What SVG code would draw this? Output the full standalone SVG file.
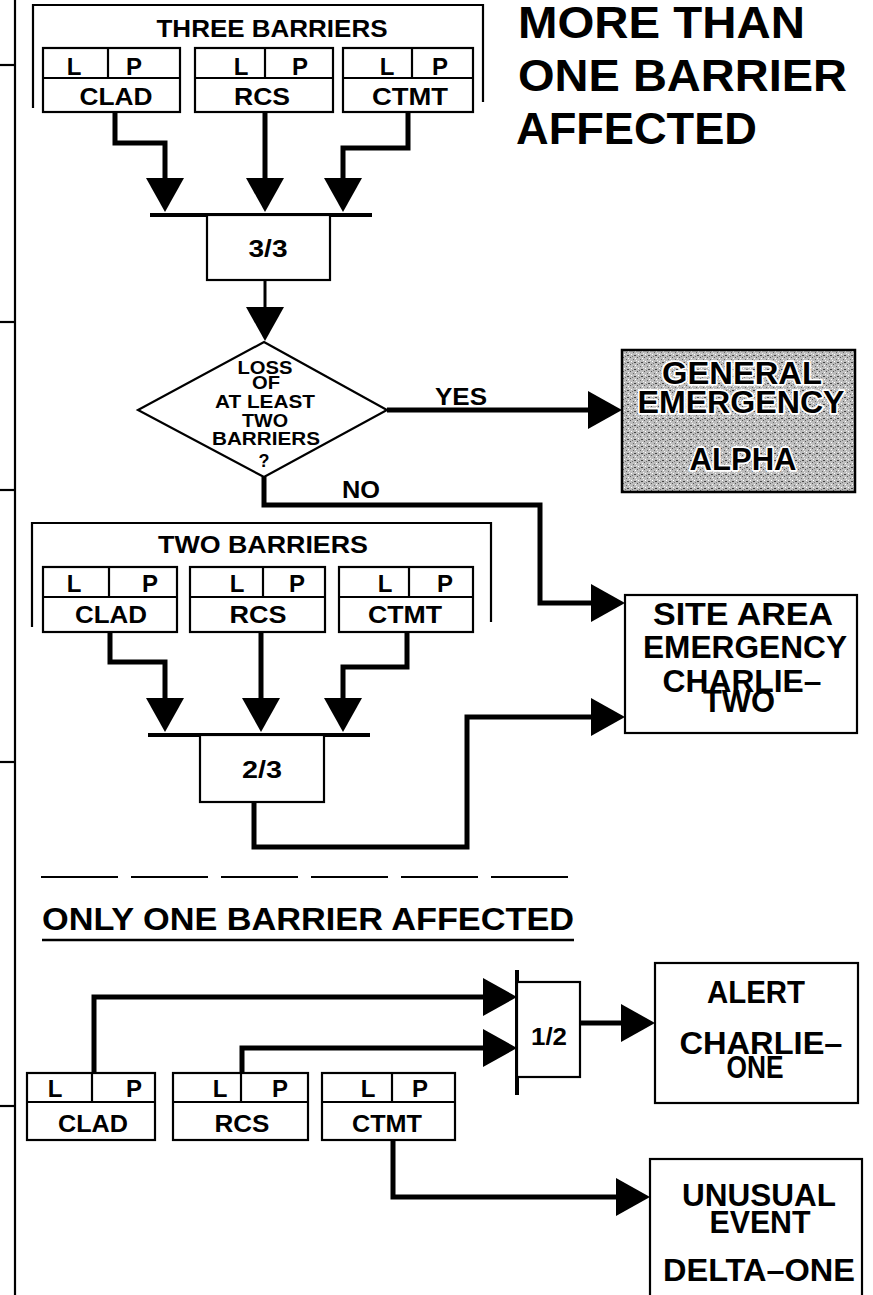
<svg xmlns="http://www.w3.org/2000/svg" width="873" height="1295" viewBox="0 0 873 1295">
<style>
.box{fill:#fff;stroke:#000;stroke-width:2.2}
.ln{fill:none;stroke:#000;stroke-width:2.2}
.bar{fill:none;stroke:#000;stroke-width:4}
.conn{fill:none;stroke:#000;stroke-width:5;marker-end:url(#ah)}
.thin{fill:none;stroke:#000;stroke-width:3;marker-end:url(#ah)}
text{font-family:"Liberation Sans",Arial,Helvetica,sans-serif;font-weight:bold;fill:#000}
.c{text-anchor:middle}
.lp{font-size:24px}
.nm{font-size:24px}
.big{font-size:31px}
.halo{stroke:#fff;stroke-width:3.5;paint-order:stroke;stroke-linejoin:round}
</style>
<defs>
<marker id="ah" markerUnits="userSpaceOnUse" markerWidth="34" markerHeight="38" viewBox="0 0 34 38" refX="24" refY="19" orient="auto"><path d="M0,0 L34,19 L0,38 Z" fill="#000"/></marker>
<pattern id="stip" width="7" height="7" patternUnits="userSpaceOnUse">
<rect width="7" height="7" fill="#bdbdbd"/>
<rect x="0" y="0" width="1" height="1" fill="#555"/>
<rect x="3" y="2" width="1" height="1" fill="#666"/>
<rect x="1" y="4" width="1" height="1" fill="#fff"/>
<rect x="4" y="5" width="2" height="1" fill="#444"/>
<rect x="5" y="1" width="1" height="1" fill="#fff"/>
<rect x="2" y="6" width="1" height="1" fill="#777"/>
<rect x="6" y="3" width="1" height="1" fill="#eee"/>
</pattern>
</defs>
<rect width="873" height="1295" fill="#fff"/>

<g id="frame">
<line class="ln" x1="15" y1="0" x2="15" y2="1295"/>
<line class="ln" x1="0" y1="65" x2="15" y2="65"/>
<line class="ln" x1="0" y1="322" x2="15" y2="322"/>
<line class="ln" x1="0" y1="490" x2="15" y2="490"/>
<line class="ln" x1="0" y1="762" x2="15" y2="762"/>
<line class="ln" x1="0" y1="1106" x2="15" y2="1106"/>
</g>

<g id="title">
<text x="518" y="38" font-size="44" textLength="287" lengthAdjust="spacingAndGlyphs">MORE THAN</text>
<text x="518" y="91" font-size="44" textLength="329" lengthAdjust="spacingAndGlyphs">ONE BARRIER</text>
<text x="516" y="144" font-size="44" textLength="241" lengthAdjust="spacingAndGlyphs">AFFECTED</text>
</g>

<g id="three-barriers">
<path class="ln" d="M33,108 V5 H483 V102"/>
<text class="c" x="272" y="37" font-size="24" textLength="231" lengthAdjust="spacingAndGlyphs">THREE BARRIERS</text>
</g>
<g id="top-clad">
<rect class="box" x="43" y="48" width="137" height="64"/>
<line class="ln" x1="43" y1="78" x2="180" y2="78"/><line class="ln" x1="108" y1="48" x2="108" y2="78"/>
<text class="c lp" x="74" y="75">L</text><text class="c lp" x="134" y="75">P</text>
<text class="c nm" x="116" y="105" textLength="73" lengthAdjust="spacingAndGlyphs">CLAD</text>
</g>
<g id="top-rcs">
<rect class="box" x="195" y="48" width="138" height="64"/>
<line class="ln" x1="195" y1="78" x2="333" y2="78"/><line class="ln" x1="265" y1="48" x2="265" y2="78"/>
<text class="c lp" x="241" y="75">L</text><text class="c lp" x="300" y="75">P</text>
<text class="c nm" x="262" y="105" textLength="56" lengthAdjust="spacingAndGlyphs">RCS</text>
</g>
<g id="top-ctmt">
<rect class="box" x="343" y="48" width="130" height="64"/>
<line class="ln" x1="343" y1="78" x2="473" y2="78"/><line class="ln" x1="412" y1="48" x2="412" y2="78"/>
<text class="c lp" x="387" y="75">L</text><text class="c lp" x="440" y="75">P</text>
<text class="c nm" x="410" y="105" textLength="76" lengthAdjust="spacingAndGlyphs">CTMT</text>
</g>
<g id="gate-3of3">
<line class="bar" x1="150" y1="215" x2="372" y2="215"/>
<rect class="box" x="207" y="215" width="123" height="65"/>
<text class="c nm" x="268" y="257" textLength="39" lengthAdjust="spacingAndGlyphs">3/3</text>
</g>

<g id="decision">
<polygon class="box" points="264,342 387,410 264,477 138,410"/>
<text class="c" font-size="19" x="265" y="374" textLength="55" lengthAdjust="spacingAndGlyphs">LOSS</text>
<text class="c" font-size="19" x="266" y="389" textLength="28" lengthAdjust="spacingAndGlyphs">OF</text>
<text class="c" font-size="19" x="265" y="408" textLength="100" lengthAdjust="spacingAndGlyphs">AT LEAST</text>
<text class="c" font-size="19" x="265" y="427" textLength="46" lengthAdjust="spacingAndGlyphs">TWO</text>
<text class="c" font-size="19" x="266" y="445" textLength="108" lengthAdjust="spacingAndGlyphs">BARRIERS</text>
<text class="c" font-size="18" x="264" y="467">?</text>
</g>

<g id="general-emergency">
<rect x="622" y="350" width="233" height="142" fill="url(#stip)" stroke="#000" stroke-width="2.5"/>
<text class="c big halo" x="742" y="384" textLength="160" lengthAdjust="spacingAndGlyphs">GENERAL</text>
<text class="c big halo" x="741" y="413" textLength="207" lengthAdjust="spacingAndGlyphs">EMERGENCY</text>
<text class="c big halo" x="743" y="470" textLength="107" lengthAdjust="spacingAndGlyphs">ALPHA</text>
</g>

<g id="site-area-emergency">
<rect class="box" x="625" y="595" width="232" height="138"/>
<text class="c big" x="743" y="625" textLength="180" lengthAdjust="spacingAndGlyphs">SITE AREA</text>
<text class="c big" x="745" y="658" textLength="204" lengthAdjust="spacingAndGlyphs">EMERGENCY</text>
<text class="c big" x="742" y="692" textLength="159" lengthAdjust="spacingAndGlyphs">CHARLIE–</text>
<text class="c big" x="739" y="712" textLength="72" lengthAdjust="spacingAndGlyphs">TWO</text>
</g>

<g id="two-barriers">
<path class="ln" d="M32,627 V523 H491 V622"/>
<text class="c" x="263" y="553" font-size="24" textLength="210" lengthAdjust="spacingAndGlyphs">TWO BARRIERS</text>
</g>
<g id="mid-clad">
<rect class="box" x="43" y="567" width="134" height="65"/>
<line class="ln" x1="43" y1="597" x2="177" y2="597"/><line class="ln" x1="109" y1="567" x2="109" y2="597"/>
<text class="c lp" x="74" y="592">L</text><text class="c lp" x="150" y="592">P</text>
<text class="c nm" x="111" y="623" textLength="72" lengthAdjust="spacingAndGlyphs">CLAD</text>
</g>
<g id="mid-rcs">
<rect class="box" x="190" y="567" width="135" height="65"/>
<line class="ln" x1="190" y1="597" x2="325" y2="597"/><line class="ln" x1="263" y1="567" x2="263" y2="597"/>
<text class="c lp" x="237" y="592">L</text><text class="c lp" x="297" y="592">P</text>
<text class="c nm" x="258" y="623" textLength="57" lengthAdjust="spacingAndGlyphs">RCS</text>
</g>
<g id="mid-ctmt">
<rect class="box" x="339" y="567" width="134" height="65"/>
<line class="ln" x1="339" y1="597" x2="473" y2="597"/><line class="ln" x1="409" y1="567" x2="409" y2="597"/>
<text class="c lp" x="385" y="592">L</text><text class="c lp" x="445" y="592">P</text>
<text class="c nm" x="405" y="623" textLength="74" lengthAdjust="spacingAndGlyphs">CTMT</text>
</g>
<g id="gate-2of3">
<line class="bar" x1="148" y1="735" x2="370" y2="735"/>
<rect class="box" x="200" y="735" width="124" height="67"/>
<text class="c nm" x="262" y="778" textLength="40" lengthAdjust="spacingAndGlyphs">2/3</text>
</g>

<g id="separator">
<line x1="41" y1="877" x2="568" y2="877" stroke="#000" stroke-width="2" stroke-dasharray="77 13"/>
</g>
<g id="heading-one">
<text x="42" y="930" font-size="32" textLength="532" lengthAdjust="spacingAndGlyphs">ONLY ONE BARRIER AFFECTED</text>
<line x1="42" y1="940" x2="574" y2="940" stroke="#000" stroke-width="2.5"/>
</g>

<g id="gate-1of2">
<line class="bar" x1="517" y1="970" x2="517" y2="1095"/>
<rect class="box" x="517" y="982" width="63" height="95"/>
<text class="c nm" x="549" y="1045" textLength="36" lengthAdjust="spacingAndGlyphs">1/2</text>
</g>
<g id="alert">
<rect class="box" x="655" y="963" width="203" height="140"/>
<text class="c big" x="756" y="1003" textLength="98" lengthAdjust="spacingAndGlyphs">ALERT</text>
<text class="c big" x="761" y="1054" textLength="163" lengthAdjust="spacingAndGlyphs">CHARLIE–</text>
<text class="c big" x="755" y="1078" textLength="57" lengthAdjust="spacingAndGlyphs">ONE</text>
</g>
<g id="bot-clad">
<rect class="box" x="27" y="1073" width="128" height="67"/>
<line class="ln" x1="27" y1="1102" x2="155" y2="1102"/><line class="ln" x1="92" y1="1073" x2="92" y2="1102"/>
<text class="c lp" x="55" y="1097">L</text><text class="c lp" x="134" y="1097">P</text>
<text class="c nm" x="93" y="1132" textLength="70" lengthAdjust="spacingAndGlyphs">CLAD</text>
</g>
<g id="bot-rcs">
<rect class="box" x="173" y="1073" width="135" height="67"/>
<line class="ln" x1="173" y1="1102" x2="308" y2="1102"/><line class="ln" x1="241" y1="1073" x2="241" y2="1102"/>
<text class="c lp" x="220" y="1097">L</text><text class="c lp" x="280" y="1097">P</text>
<text class="c nm" x="242" y="1132" textLength="55" lengthAdjust="spacingAndGlyphs">RCS</text>
</g>
<g id="bot-ctmt">
<rect class="box" x="322" y="1073" width="133" height="67"/>
<line class="ln" x1="322" y1="1102" x2="455" y2="1102"/><line class="ln" x1="392" y1="1073" x2="392" y2="1102"/>
<text class="c lp" x="368" y="1097">L</text><text class="c lp" x="420" y="1097">P</text>
<text class="c nm" x="387" y="1132" textLength="70" lengthAdjust="spacingAndGlyphs">CTMT</text>
</g>
<g id="unusual-event">
<rect class="box" x="650" y="1159" width="212" height="150"/>
<text class="c big" x="759" y="1206" textLength="154" lengthAdjust="spacingAndGlyphs">UNUSUAL</text>
<text class="c big" x="760" y="1233" textLength="101" lengthAdjust="spacingAndGlyphs">EVENT</text>
<text class="c big" x="759" y="1281" textLength="192" lengthAdjust="spacingAndGlyphs">DELTA–ONE</text>
</g>

<g id="connectors">
<path class="conn" d="M115,112 V143 H165 V202"/>
<path class="conn" d="M265,112 V202"/>
<path class="conn" d="M408,112 V148 H343 V202"/>
<path class="thin" d="M265,280 V331"/>
<path class="conn" d="M387,410 H612"/>
<path class="conn" d="M264,477 V505 H540 V603 H615"/>
<path class="conn" d="M110,632 V662 H165 V722"/>
<path class="conn" d="M261,632 V722"/>
<path class="conn" d="M407,632 V667 H343 V722"/>
<path class="conn" d="M254,802 V847 H467 V717 H615"/>
<path class="conn" d="M94,1073 V997 H507"/>
<path class="conn" d="M242,1073 V1048 H507"/>
<path class="conn" d="M580,1023 H645"/>
<path class="conn" d="M393,1140 V1197 H640"/>
<text x="435" y="405" font-size="24" textLength="52" lengthAdjust="spacingAndGlyphs">YES</text>
<text x="342" y="498" font-size="24" textLength="38" lengthAdjust="spacingAndGlyphs">NO</text>
</g>
</svg>
